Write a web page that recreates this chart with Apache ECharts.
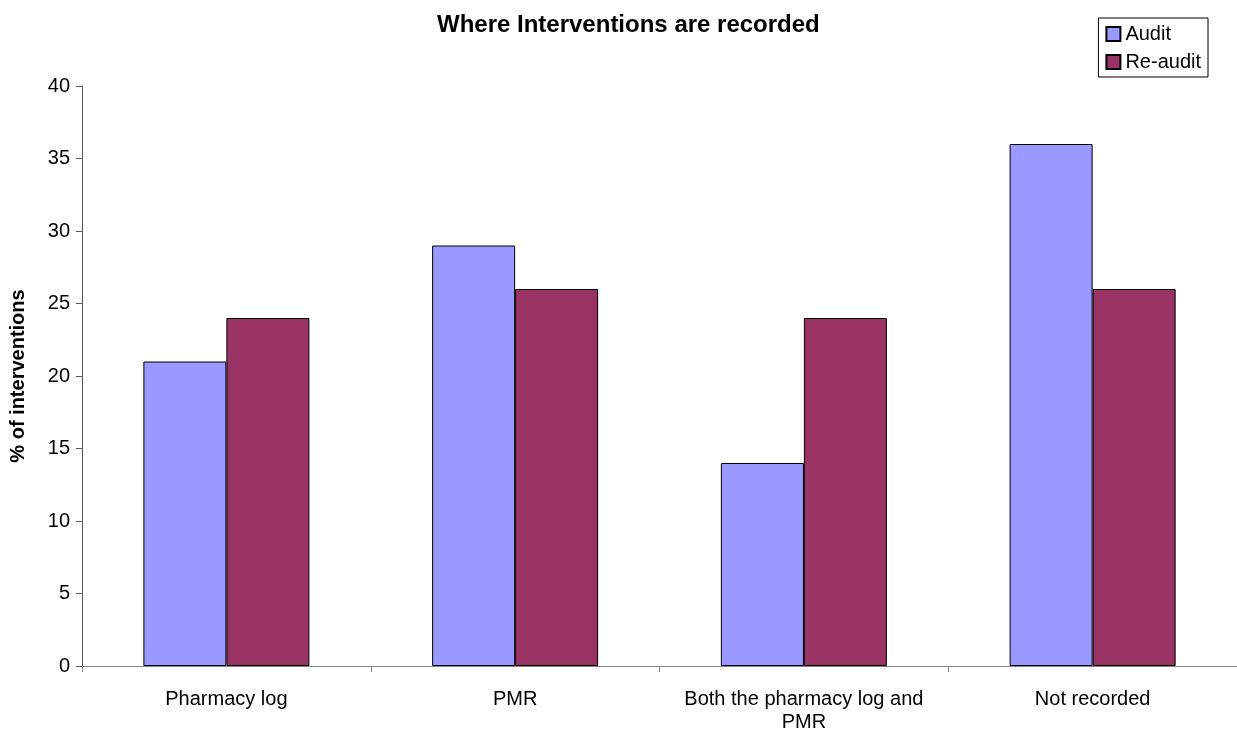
<!DOCTYPE html>
<html>
<head>
<meta charset="utf-8">
<title>Where Interventions are recorded</title>
<script src="https://cdn.jsdelivr.net/npm/echarts@6/dist/echarts.min.js"></script>
<style>
  html, body { margin: 0; padding: 0; background: #ffffff; }
  #chart { width: 1237px; height: 731px; }
</style>
</head>
<body>
<div id="chart"></div>
<script>
// Categories and values
const categories = ['Pharmacy log', 'PMR', 'Both the pharmacy log and\nPMR', 'Not recorded'];
const auditValues = [21, 29, 14, 36];
const reauditValues = [24, 26, 24, 26];
const seriesNames = ['Audit', 'Re-audit'];

const FONT = '"Liberation Sans", Arial, Helvetica, sans-serif';

const chart = echarts.init(document.getElementById('chart'), null, { renderer: 'canvas' });

chart.setOption({
  backgroundColor: '#ffffff',
  animation: false,
  title: {
    text: 'Where Interventions are recorded',
    left: 432,
    top: 8,
    textStyle: { fontFamily: FONT, fontSize: 24, fontWeight: 'bold', color: '#000' }
  },
  legend: {
    orient: 'vertical',
    right: 29,
    top: 18,
    padding: [6, 7, 5, 7],
    itemGap: 8,
    itemWidth: 14,
    itemHeight: 14,
    itemTextGap: 6,
    icon: 'rect',
    borderColor: '#000',
    borderWidth: 1,
    backgroundColor: '#fff',
    textStyle: { fontFamily: FONT, fontSize: 20, color: '#000' },
    data: seriesNames
  },
  grid: {
    left: 82,
    right: 0,
    top: 86,
    bottom: 65,
    containLabel: false,
    outerBoundsMode: 'none'
  },
  xAxis: {
    type: 'category',
    data: categories,
    axisLine: { show: true, lineStyle: { color: '#868686', width: 1 } },
    axisTick: { show: true, alignWithLabel: false, length: 6, lineStyle: { color: '#868686' } },
    axisLabel: {
      interval: 0,
      margin: 22,
      fontFamily: FONT,
      fontSize: 20,
      lineHeight: 23,
      color: '#000'
    },
    splitLine: { show: false }
  },
  yAxis: {
    type: 'value',
    min: 0,
    max: 40,
    interval: 5,
    name: '% of interventions',
    nameLocation: 'middle',
    nameRotate: 90,
    nameGap: 54,
    nameTextStyle: { fontFamily: FONT, fontSize: 20, fontWeight: 'bold', color: '#000' },
    axisLine: { show: true, lineStyle: { color: '#5a5a5a', width: 1 } },
    axisTick: { show: true, length: 6, lineStyle: { color: '#5a5a5a' } },
    axisLabel: { margin: 12, fontFamily: FONT, fontSize: 20, color: '#000' },
    splitLine: { show: false }
  },
  series: [
    {
      name: seriesNames[0],
      type: 'bar',
      data: auditValues,
      barWidth: 83,
      barGap: '0%',
      itemStyle: { color: '#9999FF', borderColor: '#000', borderWidth: 1 }
    },
    {
      name: seriesNames[1],
      type: 'bar',
      data: reauditValues,
      barWidth: 83,
      barGap: '0%',
      itemStyle: { color: '#993366', borderColor: '#000', borderWidth: 1 }
    }
  ]
});
</script>
</body>
</html>
